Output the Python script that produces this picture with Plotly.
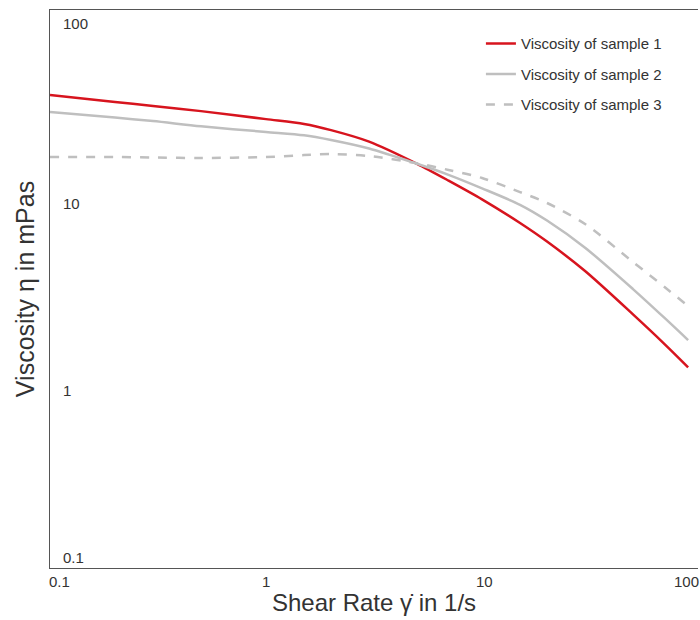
import math
import plotly.graph_objects as go

# Shear rate (1/s)
shear_rate = [0.1, 0.2, 0.3, 0.5, 1, 1.5, 2, 3, 5, 7, 10, 15, 20, 30, 50, 70, 90]

# Viscosity (mPas)
visc_sample1 = [34.9, 32.0, 30.5, 28.6, 25.9, 24.4, 22.6, 19.6, 14.9, 12.1, 9.6, 7.16, 5.69, 3.95, 2.31, 1.60, 1.20]
visc_sample2 = [28.3, 26.4, 25.3, 23.7, 22.1, 21.2, 20.0, 18.0, 14.9, 13.0, 11.0, 8.97, 7.38, 5.27, 3.16, 2.21, 1.68]
visc_sample3 = [16.2, 16.2, 16.1, 16.0, 16.2, 16.6, 16.8, 16.4, 15.0, 13.8, 12.5, 10.5, 9.17, 7.07, 4.42, 3.24, 2.56]

series_names = ["Viscosity of sample 1", "Viscosity of sample 2", "Viscosity of sample 3"]

x_tick_vals = [0.1, 1, 10, 100]
x_tick_text = ["0.1", "1", "10", "100"]
y_tick_vals = [100, 10, 1, 0.1]
y_tick_text = ["100", "10", "1", "0.1"]

RED = "#d7141e"
GRAY = "#bfbfbf"
FONT = "Liberation Sans, Arial, sans-serif"
TXT = "#333333"

fig = go.Figure()
fig.add_trace(go.Scatter(x=shear_rate, y=visc_sample1, mode="lines", name=series_names[0],
                         legendgroup="a", line=dict(color=RED, width=2.5, shape="spline", smoothing=0.8)))
fig.add_trace(go.Scatter(x=shear_rate, y=visc_sample2, mode="lines", name=series_names[1],
                         legendgroup="b", line=dict(color=GRAY, width=2.5, shape="spline", smoothing=0.8)))
fig.add_trace(go.Scatter(x=shear_rate, y=visc_sample3, mode="lines", name=series_names[2],
                         legendgroup="c", line=dict(color=GRAY, width=2.5, dash="dash", shape="spline", smoothing=0.8)))

annotations = []
x_align = ["left", "center", "center", "right"]
x_shift = [-3, 0, 2, 3]
for v, t, a, s in zip(x_tick_vals, x_tick_text, x_align, x_shift):
    annotations.append(dict(x=math.log10(v), xref="x", y=0, yref="paper", text=t,
                            showarrow=False, xanchor=a, yanchor="middle", yshift=-13, xshift=s,
                            font=dict(family=FONT, size=15, color=TXT)))
y_shifts = [-13, -7, -8, 11]
for v, t, s in zip(y_tick_vals, y_tick_text, y_shifts):
    annotations.append(dict(x=0, xref="paper", y=math.log10(v), yref="y", text=t,
                            showarrow=False, xanchor="left", yanchor="middle", xshift=11, yshift=s,
                            font=dict(family=FONT, size=15, color=TXT)))

fig.update_layout(
    width=700, height=620,
    margin=dict(l=50, r=2, t=10, b=52),
    paper_bgcolor="white", plot_bgcolor="white",
    font=dict(family=FONT, color=TXT),
    showlegend=True,
    legend=dict(x=0.665, y=0.969, xanchor="left", yanchor="top",
                font=dict(family=FONT, size=15, color=TXT),
                tracegroupgap=8, bgcolor="rgba(0,0,0,0)", itemwidth=30),
    annotations=annotations,
    xaxis=dict(type="log", range=[-1, 2], showgrid=False, zeroline=False,
               showticklabels=False, ticks="", showline=True, linecolor="#555555",
               linewidth=1, mirror=True,
               title=dict(text="Shear Rate γ̇ in 1/s", font=dict(family=FONT, size=24, color=TXT),
                          standoff=26)),
    yaxis=dict(type="log", range=[-1, 2], showgrid=False, zeroline=False,
               showticklabels=False, ticks="", showline=True, linecolor="#555555",
               linewidth=1, mirror=False,
               title=dict(text="Viscosity η in mPas", font=dict(family=FONT, size=25, color=TXT),
                          standoff=7)),
)

fig.write_html("out.html", config={"displayModeBar": False},
               post_script="document.body.style.margin='0';document.body.style.overflow='hidden';")
